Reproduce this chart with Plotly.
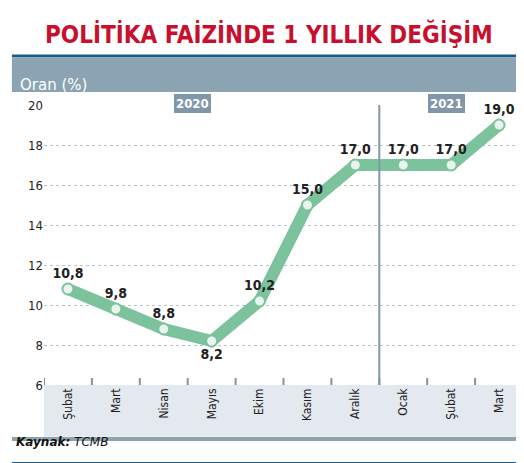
import plotly.graph_objects as go

months = ["Şubat", "Mart", "Nisan", "Mayıs", "Ekim", "Kasım", "Aralık", "Ocak", "Şubat", "Mart"]
rates = [10.8, 9.8, 8.8, 8.2, 10.2, 15.0, 17.0, 17.0, 17.0, 19.0]
labels = ["10,8", "9,8", "8,8", "8,2", "10,2", "15,0", "17,0", "17,0", "17,0", "19,0"]
y_ticks = [6, 8, 10, 12, 14, 16, 18, 20]

green = "#7cc29c"
x = list(range(len(months)))
pos = ["bottom center" if i == 3 else "top center" for i in x]

fig = go.Figure()
fig.add_trace(go.Scatter(
    x=x, y=rates, mode="lines+markers+text",
    line=dict(color=green, width=12),
    marker=dict(size=11, color="#e9f4ee", line=dict(color=green, width=2)),
    text=["<b>" + t + "</b>" for t in labels], textposition=pos,
    textfont=dict(family="DejaVu Sans Condensed", size=14, color="#222"),
    cliponaxis=False, hoverinfo="skip",
))

# plot area: 479 x 280 px
shapes = [
    dict(type="rect", xref="paper", yref="paper", x0=-0.067, x1=1.0, y0=1.046, y1=1.168,
         fillcolor="#8ba3b3", line_width=0, layer="below"),
    dict(type="line", xref="paper", yref="paper", x0=-0.067, x1=1.0, y0=1.175, y1=1.175,
         line=dict(color="#1f5b8c", width=3)),
    dict(type="rect", xref="paper", yref="paper", x0=0, x1=1.0, y0=-0.185, y1=0,
         fillcolor="#e3e9ef", line_width=0, layer="below"),
    dict(type="line", xref="paper", yref="paper", x0=-0.067, x1=1.0, y0=-0.193, y1=-0.193,
         line=dict(color="#8ea3b0", width=4)),
    dict(type="line", xref="paper", yref="paper", x0=-0.067, x1=1.0, y0=-0.282, y1=-0.282,
         line=dict(color="#1f5b8c", width=4)),
    dict(type="line", xref="x", yref="paper", x0=6.5, x1=6.5, y0=0, y1=1.0,
         line=dict(color="#7f97a6", width=2)),
]
for i in range(len(months) + 1):
    shapes.append(dict(type="line", xref="x", yref="paper", x0=i - 0.5, x1=i - 0.5,
                       y0=0, y1=0.025, line=dict(color="#7f97a6", width=2)))

annotations = [
    dict(text="<b>POLİTİKA FAİZİNDE 1 YILLIK DEĞİŞİM</b>", xref="paper", yref="paper",
         x=0.47, y=1.315, showarrow=False,
         font=dict(family="DejaVu Sans Condensed", size=24, color="#c8102e")),
    dict(text="Oran (%)", xref="paper", yref="paper", x=-0.055, y=1.112, xanchor="left",
         showarrow=False, font=dict(family="DejaVu Sans", size=15, color="white")),
    dict(text="<b><i>Kaynak:</i></b><i> TCMB</i>", xref="paper", yref="paper", x=-0.063,
         y=-0.237, xanchor="left", showarrow=False,
         font=dict(family="DejaVu Sans", size=12, color="#111")),
]
for yr, xp in [("2020", 2.6), ("2021", 7.9)]:
    annotations.append(dict(text="<b>" + yr + "</b>", x=xp, xref="x", yref="paper", y=1.045,
                            showarrow=False,
                            font=dict(family="DejaVu Sans Condensed", size=13, color="white"),
                            bgcolor="#7f97a6", bordercolor="white", borderwidth=2, borderpad=2))

fig.update_layout(
    width=524, height=463,
    margin=dict(l=36, r=9, t=97, b=86),
    paper_bgcolor="white", plot_bgcolor="white",
    showlegend=False, shapes=shapes, annotations=annotations,
    xaxis=dict(range=[-0.5, 9.5], tickmode="array", tickvals=x, ticktext=months,
               tickangle=-90, showgrid=False, zeroline=False, automargin=False,
               tickfont=dict(family="DejaVu Sans Condensed", size=12, color="#222")),
    yaxis=dict(range=[6, 20], tickvals=y_ticks, showgrid=True, gridcolor="#b8c4cc",
               griddash="dot", zeroline=False, automargin=False,
               tickfont=dict(family="DejaVu Sans Condensed", size=13, color="#222")),
)

fig.write_html("out.html")
